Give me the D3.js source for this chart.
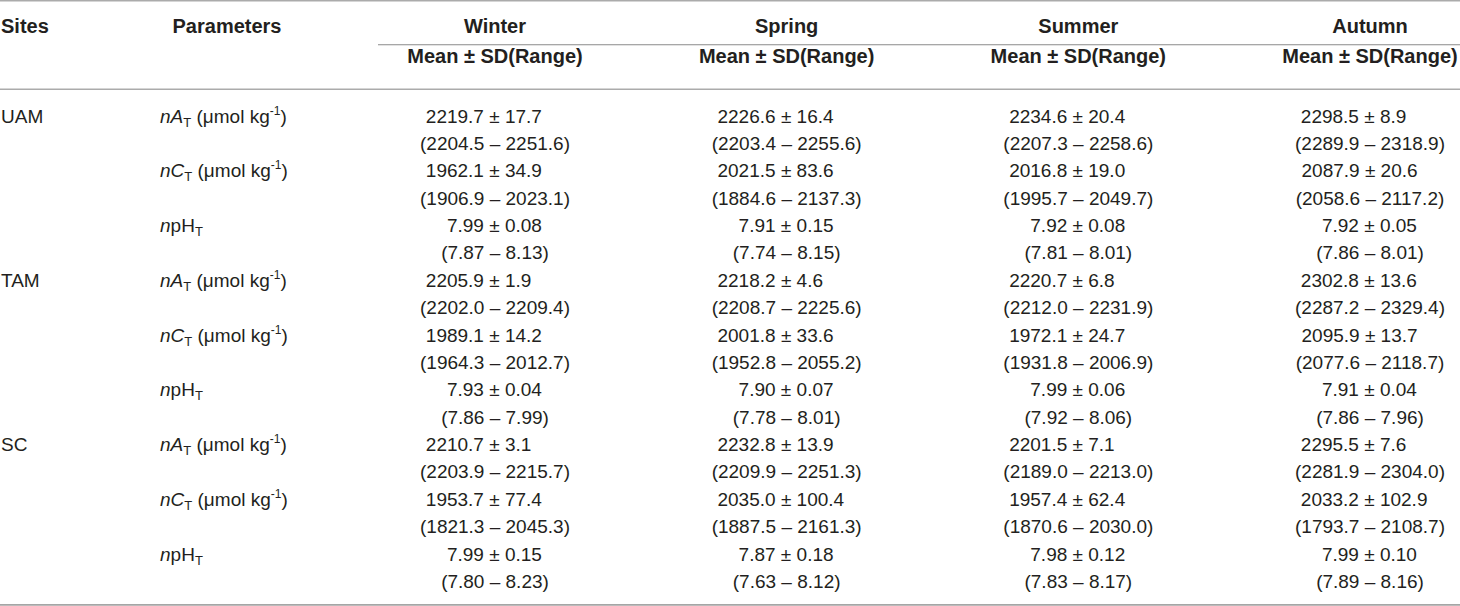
<!DOCTYPE html>
<html>
<head>
<meta charset="utf-8">
<script src="https://cdn.jsdelivr.net/npm/d3@7"></script>
<style>
  html, body { margin: 0; padding: 0; background: #fff; }
  svg { display: block; }
  text { font-family: "Liberation Sans", Arial, Helvetica, sans-serif; fill: #231f20; }
</style>
</head>
<body>
<svg id="chart" width="1460" height="606"></svg>
<script>
// ---- data ----
const sites = ["UAM", "TAM", "SC"];
const parameters = ["nAT", "nCT", "npHT"];
const seasons = ["Winter", "Spring", "Summer", "Autumn"];
const subHeader = "Mean ± SD(Range)";
// each row: [mean, sd, min, max]; rows ordered site × parameter
const winter = [
  ["2219.7", "17.7", "2204.5", "2251.6"],
  ["1962.1", "34.9", "1906.9", "2023.1"],
  ["7.99", "0.08", "7.87", "8.13"],
  ["2205.9", "1.9", "2202.0", "2209.4"],
  ["1989.1", "14.2", "1964.3", "2012.7"],
  ["7.93", "0.04", "7.86", "7.99"],
  ["2210.7", "3.1", "2203.9", "2215.7"],
  ["1953.7", "77.4", "1821.3", "2045.3"],
  ["7.99", "0.15", "7.80", "8.23"]
];
const spring = [
  ["2226.6", "16.4", "2203.4", "2255.6"],
  ["2021.5", "83.6", "1884.6", "2137.3"],
  ["7.91", "0.15", "7.74", "8.15"],
  ["2218.2", "4.6", "2208.7", "2225.6"],
  ["2001.8", "33.6", "1952.8", "2055.2"],
  ["7.90", "0.07", "7.78", "8.01"],
  ["2232.8", "13.9", "2209.9", "2251.3"],
  ["2035.0", "100.4", "1887.5", "2161.3"],
  ["7.87", "0.18", "7.63", "8.12"]
];
const summer = [
  ["2234.6", "20.4", "2207.3", "2258.6"],
  ["2016.8", "19.0", "1995.7", "2049.7"],
  ["7.92", "0.08", "7.81", "8.01"],
  ["2220.7", "6.8", "2212.0", "2231.9"],
  ["1972.1", "24.7", "1931.8", "2006.9"],
  ["7.99", "0.06", "7.92", "8.06"],
  ["2201.5", "7.1", "2189.0", "2213.0"],
  ["1957.4", "62.4", "1870.6", "2030.0"],
  ["7.98", "0.12", "7.83", "8.17"]
];
const autumn = [
  ["2298.5", "8.9", "2289.9", "2318.9"],
  ["2087.9", "20.6", "2058.6", "2117.2"],
  ["7.92", "0.05", "7.86", "8.01"],
  ["2302.8", "13.6", "2287.2", "2329.4"],
  ["2095.9", "13.7", "2077.6", "2118.7"],
  ["7.91", "0.04", "7.86", "7.96"],
  ["2295.5", "7.6", "2281.9", "2304.0"],
  ["2033.2", "102.9", "1793.7", "2108.7"],
  ["7.99", "0.10", "7.89", "8.16"]
];
const seasonData = [winter, spring, summer, autumn];

// ---- layout ----
const W = 1460, H = 606;
const REG = 19, BOLD = 20;
const svg = d3.select("#chart");

const colX = d3.scalePoint().domain(seasons).range([495, 1370]);
const rowIdx = d3.range(sites.length * parameters.length);
const rowY = d3.scaleLinear().domain([0, rowIdx.length - 1]).range([122.7, 560.7]);
const line2 = 27.2;

// rules
const rules = [
  {x1: 0, x2: W, y: 0.8, c: "#ababab", w: 1.6},
  {x1: 378, x2: W, y: 44.7, c: "#8a8a8a", w: 1.1},
  {x1: 0, x2: W, y: 89.3, c: "#ababab", w: 1.6},
  {x1: 0, x2: W, y: 604.8, c: "#a5a5a5", w: 1.8}
];
svg.selectAll("line.rule").data(rules).join("line")
  .attr("class", "rule")
  .attr("x1", d => d.x1).attr("x2", d => d.x2)
  .attr("y1", d => d.y).attr("y2", d => d.y)
  .attr("stroke", d => d.c).attr("stroke-width", d => d.w);

// header
const hdr = svg.append("g").attr("font-weight", "bold").attr("font-size", BOLD);
hdr.append("text").attr("x", 1).attr("y", 33).text("Sites");
hdr.append("text").attr("x", 227).attr("y", 33).attr("text-anchor", "middle").text("Parameters");
hdr.selectAll("text.season").data(seasons).join("text")
  .attr("class", "season")
  .attr("x", d => colX(d)).attr("y", 33).attr("text-anchor", "middle").text(d => d);
hdr.selectAll("text.sub").data(seasons).join("text")
  .attr("class", "sub")
  .attr("x", d => colX(d)).attr("y", 63).attr("text-anchor", "middle").text(subHeader);

// sites
const body = svg.append("g").attr("font-size", REG);
body.selectAll("text.site").data(sites).join("text")
  .attr("class", "site")
  .attr("x", 1)
  .attr("y", (d, i) => rowY(i * parameters.length))
  .text(d => d);

// parameter labels
function drawParam(t, p) {
  if (p === "npHT") {
    t.append("tspan").attr("font-style", "italic").text("n");
    t.append("tspan").text("pH");
    t.append("tspan").attr("font-size", 13).attr("dy", 4).text("T");
  } else {
    const letter = p === "nAT" ? "A" : "C";
    t.append("tspan").attr("font-style", "italic").text("n" + letter);
    t.append("tspan").attr("font-size", 13).attr("dy", 4).text("T");
    t.append("tspan").attr("dy", -4).text(" (μmol kg");
    t.append("tspan").attr("font-size", 12).attr("dy", -8).text("-1");
    t.append("tspan").attr("dy", 8).text(")");
  }
}
rowIdx.forEach(i => {
  const p = parameters[i % parameters.length];
  const t = body.append("text").attr("x", 160).attr("y", rowY(i));
  drawParam(t, p);
});

// measure "(" width
const probe = body.append("text").attr("x", -100).attr("y", -100).text("(");
const parenW = probe.node().getComputedTextLength();
probe.remove();

// cells
seasons.forEach((s, si) => {
  const data = seasonData[si];
  const g = body.append("g");
  data.forEach((d, i) => {
    const t2 = g.append("text")
      .attr("x", colX(s)).attr("y", rowY(i) + line2)
      .attr("text-anchor", "middle")
      .text(`(${d[2]} – ${d[3]})`);
    const w2 = t2.node().getComputedTextLength();
    const start = colX(s) - w2 / 2;
    g.append("text")
      .attr("x", start + parenW - 0.5).attr("y", rowY(i))
      .text(`${d[0]} ± ${d[1]}`);
  });
});
</script>
</body>
</html>
